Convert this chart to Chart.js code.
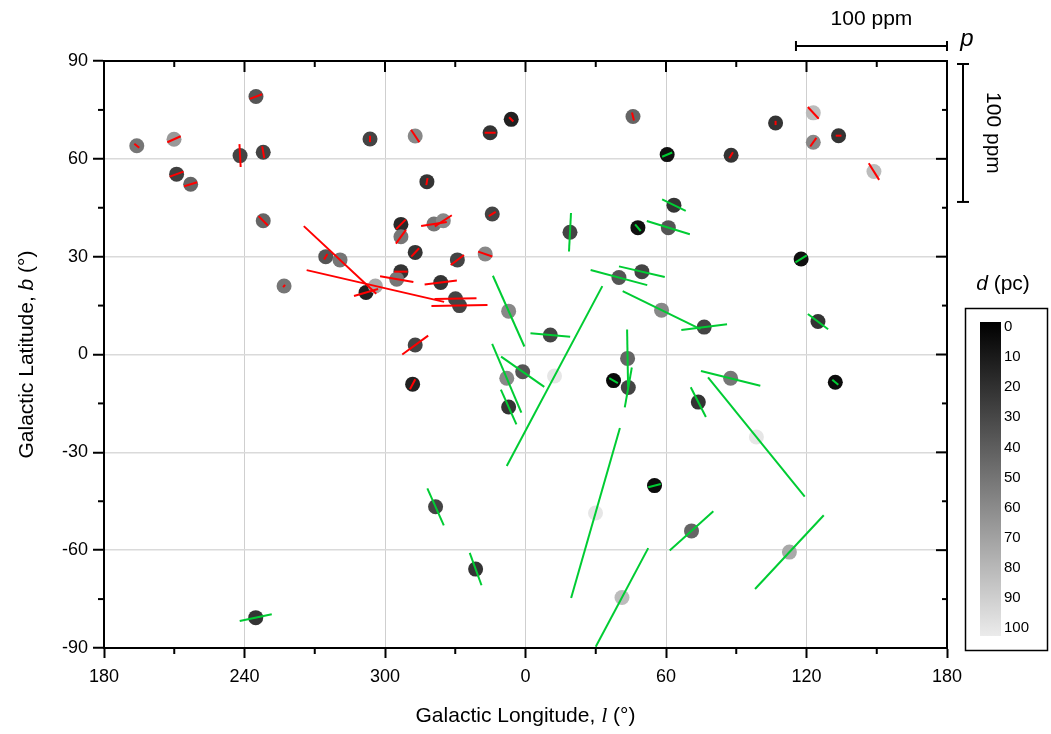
<!DOCTYPE html>
<html>
<head>
<meta charset="utf-8">
<title>Galactic polarization map</title>
<script src="https://cdn.jsdelivr.net/npm/chart.js"></script>
<style>
	html, body { margin: 0; padding: 0; background: #fff; }
	canvas { display: block; }
</style>
</head>
<body>
<canvas id="pol-map" width="1051" height="734"></canvas>
<script>
// stars: galactic longitude / latitude (deg), distance (pc),
// polarisation p (ppm) and position angle (deg, from north towards +l)
var lon = [194.0, 209.9, 244.9, 238.1, 248.0, 211.0, 217.0, 248.0, 293.6, 312.9,
	344.9, 353.9, 45.9, 317.9, 345.8, 306.8, 306.8, 320.9, 324.9, 312.9,
	330.9, 342.8, 306.8, 305.0, 323.8, 330.1, 331.8, 312.9, 311.8, 256.9,
	274.7, 280.8, 291.9, 295.9, 87.8, 106.8, 122.9, 122.9, 133.7, 148.8,
	19.0, 48.0, 63.4, 61.0, 60.5, 117.7, 124.9, 132.3, 76.3, 87.6,
	73.8, 98.6, 58.1, 39.9, 49.7, 352.8, 10.6, 352.0, 358.8, 352.8,
	12.4, 43.6, 43.9, 37.6, 55.1, 70.9, 112.7, 321.6, 338.7, 29.9,
	41.2, 244.8];
var lat = [64.0, 66.0, 79.1, 61.0, 62.0, 55.3, 52.2, 41.0, 66.1, 67.0,
	68.0, 72.1, 73.0, 53.0, 43.1, 39.9, 36.1, 40.0, 41.0, 31.3,
	29.0, 30.8, 25.4, 23.1, 22.1, 17.1, 15.0, 2.9, -9.1, 21.0,
	30.0, 29.0, 19.0, 21.0, 61.1, 71.0, 74.1, 65.1, 67.1, 56.1,
	37.5, 38.9, 45.8, 38.9, 61.3, 29.3, 10.1, -8.5, 8.4, -7.3,
	-14.6, -25.3, 13.6, 23.6, 25.4, 13.3, 6.0, -7.3, -5.3, -16.1,
	-6.6, -1.2, -10.1, -8.0, -40.2, -54.1, -60.6, -46.7, -65.8, -48.6,
	-74.5, -80.7];
var dist = [50, 65, 36, 29, 29, 27, 43, 43, 29, 58,
	22, 14, 43, 22, 29, 18, 50, 50, 58, 22,
	29, 58, 22, 50, 22, 29, 29, 29, 14, 50,
	36, 50, 14, 72, 22, 22, 80, 58, 22, 80,
	29, 7, 22, 36, 7, 7, 22, 5, 29, 50,
	22, 98, 58, 36, 29, 58, 29, 58, 36, 22,
	98, 43, 29, 4, 5, 43, 72, 29, 22, 98,
	80, 22];
var pol = [4.2, 9.7, 8.7, 15.2, 7.9, 9.7, 9.0, 8.7, 4.2, 9.9,
	7.3, 4.0, 5.4, 4.7, 5.4, 8.9, 11.3, 17.2, 13.4, 7.5,
	11.0, 10.0, 8.8, 22.4, 21.5, 27.8, 37.1, 21.2, 7.5, 2.0,
	4.2, 65.6, 16.6, 93.4, 4.6, 2.8, 10.6, 7.0, 3.8, 13.0,
	25.5, 5.8, 17.4, 29.8, 7.2, 8.8, 16.8, 5.2, 30.5, 40.5,
	22.1, 101.7, 57.3, 38.8, 31.1, 51.3, 26.4, 49.5, 34.9, 25.3,
	134.8, 38.4, 26.8, 6.6, 8.6, 38.9, 66.7, 26.8, 22.8, 117.2,
	74.0, 21.7];
var angle = [129, 66, 69, 177, 170, 70, 73, 135, 0, 146,
	90, 135, 166, 10, 58, 45, 36, 81, 57, 43,
	53, 109, 90, 100, 83, 89, 89, 54, 28, 41,
	32, 133, 74, 103, 32, 0, 137, 35, 90, 148,
	3, 140, 116, 107, 67, 58, 127, 130, 83, 104,
	153, 141, 116, 105, 103, 156, 95, 157, 125, 156,
	28, 179, 10, 120, 75, 48, 43, 156, 160, 16,
	28, 78];
// which sample each star belongs to
var sample = [1, 1, 1, 1, 1, 1, 1, 1, 1, 1,
	1, 1, 1, 1, 1, 1, 1, 1, 1, 1,
	1, 1, 1, 1, 1, 1, 1, 1, 1, 1,
	1, 1, 1, 1, 1, 1, 1, 1, 1, 1,
	2, 2, 2, 2, 2, 2, 2, 2, 2, 2,
	2, 2, 2, 2, 2, 2, 2, 2, 2, 2,
	2, 2, 2, 2, 2, 2, 2, 2, 2, 2,
	2, 2];

var xTicks = [180, 240, 300, 360, 420, 480, 540];
var yTicks = [-90, -60, -30, 0, 30, 60, 90];
var cbarTicks = [0, 10, 20, 30, 40, 50, 60, 70, 80, 90, 100];

var PPM_L = 64.5;  // longitude span of 100 ppm
var PPM_B = 42.3;  // latitude span of 100 ppm
var vecColour = { 1: '#ff0000', 2: '#00cc33' };
var FONT = 'Liberation Sans, Arial, sans-serif';

function unwrap(l) { return l < 180 ? l + 360 : l; }

function greyFor(d) {
	var g = Math.round(Math.min(d, 100) * 2.35);
	return 'rgb(' + g + ',' + g + ',' + g + ')';
}

function buildSet(n) {
	var pts = [], cols = [], idx = [];
	for (var i = 0; i < lon.length; i++) {
		if (sample[i] !== n) continue;
		pts.push({ x: unwrap(lon[i]), y: lat[i] });
		cols.push(greyFor(dist[i]));
		idx.push(i);
	}
	return { label: 'sample ' + n, data: pts, idx: idx,
		pointBackgroundColor: cols, pointBorderWidth: 0,
		pointRadius: 7.5, pointHoverRadius: 7.5, showLine: false };
}

function line(ctx, x1, y1, x2, y2) {
	ctx.beginPath();
	ctx.moveTo(x1, y1);
	ctx.lineTo(x2, y2);
	ctx.stroke();
}

var extras = {
	id: 'extras',
	afterDatasetsDraw: function (chart) {
		var ctx = chart.ctx, xs = chart.scales.x, a = chart.chartArea;
		var pxPerPpm = (xs.getPixelForValue(540) - xs.getPixelForValue(540 - PPM_L)) / 100;
		ctx.save();
		ctx.beginPath();
		ctx.rect(a.left, a.top, a.right - a.left, a.bottom - a.top);
		ctx.clip();
		ctx.lineWidth = 2;
		chart.data.datasets.forEach(function (ds, di) {
			var meta = chart.getDatasetMeta(di);
			meta.data.forEach(function (el, j) {
				var i = ds.idx[j];
				var half = pol[i] * pxPerPpm / 2;
				var t = angle[i] * Math.PI / 180;
				var dx = Math.sin(t) * half, dy = -Math.cos(t) * half;
				ctx.strokeStyle = vecColour[sample[i]];
				line(ctx, el.x - dx, el.y - dy, el.x + dx, el.y + dy);
			});
		});
		ctx.restore();
	},
	afterDraw: function (chart) {
		var ctx = chart.ctx, xs = chart.scales.x, ys = chart.scales.y, a = chart.chartArea;
		var v, p;
		ctx.save();
		ctx.strokeStyle = '#000';
		ctx.fillStyle = '#000';
		ctx.lineWidth = 2;
		// top and right frame
		line(ctx, a.left - 1, a.top, a.right + 1, a.top);
		line(ctx, a.right, a.top, a.right, a.bottom + 1);
		// inward ticks on top / right, minor ticks all round
		for (v = 180; v <= 540; v += 30) {
			p = xs.getPixelForValue(v);
			if (v % 60 === 0) {
				line(ctx, p, a.top, p, a.top + 11);
			} else {
				line(ctx, p, a.top, p, a.top + 6);
				line(ctx, p, a.bottom, p, a.bottom + 6);
			}
		}
		for (v = -90; v <= 90; v += 15) {
			p = ys.getPixelForValue(v);
			if (v % 30 === 0) {
				line(ctx, a.right - 11, p, a.right, p);
			} else {
				line(ctx, a.right - 5, p, a.right, p);
				line(ctx, a.left - 6, p, a.left, p);
			}
		}

		// axis titles
		ctx.textBaseline = 'middle';
		ctx.font = '21px ' + FONT;
		var t1 = 'Galactic Longitude, ', t3 = ' (°)';
		ctx.font = 'italic 22px Liberation Serif, Times New Roman, serif';
		var w2 = ctx.measureText('l').width;
		ctx.font = '21px ' + FONT;
		var w1 = ctx.measureText(t1).width, w3 = ctx.measureText(t3).width;
		var cx = (a.left + a.right) / 2, x0 = cx - (w1 + w2 + w3) / 2;
		ctx.textAlign = 'left';
		ctx.fillText(t1, x0, 716);
		ctx.font = 'italic 22px Liberation Serif, Times New Roman, serif';
		ctx.fillText('l', x0 + w1, 716);
		ctx.font = '21px ' + FONT;
		ctx.fillText(t3, x0 + w1 + w2, 716);

		ctx.save();
		ctx.translate(27, (a.top + a.bottom) / 2);
		ctx.rotate(-Math.PI / 2);
		var u1 = 'Galactic Latitude, ', u3 = ' (°)';
		var q1 = ctx.measureText(u1).width, q3 = ctx.measureText(u3).width;
		ctx.font = 'italic 21px ' + FONT;
		var q2 = ctx.measureText('b').width;
		var y0 = -(q1 + q2 + q3) / 2;
		ctx.font = '21px ' + FONT;
		ctx.fillText(u1, y0, 0);
		ctx.font = 'italic 21px ' + FONT;
		ctx.fillText('b', y0 + q1, 0);
		ctx.font = '21px ' + FONT;
		ctx.fillText(u3, y0 + q1 + q2, 0);
		ctx.restore();

		// 100 ppm scale bars
		var hx1 = xs.getPixelForValue(540 - PPM_L), hx2 = xs.getPixelForValue(540), hy = 46;
		line(ctx, hx1, hy, hx2, hy);
		line(ctx, hx1, hy - 5, hx1, hy + 5);
		line(ctx, hx2, hy - 5, hx2, hy + 5);
		ctx.textAlign = 'center';
		ctx.font = '21px ' + FONT;
		ctx.fillText('100 ppm', (hx1 + hx2) / 2, 19);
		ctx.font = 'italic 24px ' + FONT;
		ctx.fillText('p', 967, 39);

		var vy1 = a.top + 3, vy2 = vy1 + (ys.getPixelForValue(0) - ys.getPixelForValue(PPM_B)), vx = 963;
		line(ctx, vx, vy1, vx, vy2);
		line(ctx, vx - 6, vy1, vx + 6, vy1);
		line(ctx, vx - 6, vy2, vx + 6, vy2);
		ctx.save();
		ctx.translate(993, (vy1 + vy2) / 2);
		ctx.rotate(Math.PI / 2);
		ctx.font = '21px ' + FONT;
		ctx.fillText('100 ppm', 0, 0);
		ctx.restore();

		// distance colour bar
		ctx.lineWidth = 1.5;
		ctx.strokeRect(965.5, 308.5, 82, 342);
		var gTop = 322, gBot = 636;
		var grad = ctx.createLinearGradient(0, gTop, 0, gBot);
		grad.addColorStop(0, greyFor(0));
		grad.addColorStop(1, greyFor(100));
		ctx.fillStyle = grad;
		ctx.fillRect(980, gTop, 21, gBot - gTop);
		ctx.fillStyle = '#000';
		ctx.textAlign = 'left';
		ctx.font = '15px ' + FONT;
		cbarTicks.forEach(function (t) {
			ctx.fillText(String(t), 1004, 327 + t * 3.01);
		});
		ctx.font = 'italic 21px ' + FONT;
		var dw = ctx.measureText('d').width;
		ctx.font = '21px ' + FONT;
		var pw = ctx.measureText(' (pc)').width;
		var dx0 = 1003 - (dw + pw) / 2;
		ctx.font = 'italic 21px ' + FONT;
		ctx.fillText('d', dx0, 284);
		ctx.font = '21px ' + FONT;
		ctx.fillText(' (pc)', dx0 + dw, 284);
		ctx.restore();
	}
};

Chart.defaults.font.family = FONT;
Chart.defaults.color = '#000';

new Chart(document.getElementById('pol-map'), {
	type: 'scatter',
	data: { datasets: [buildSet(1), buildSet(2)] },
	options: {
		responsive: false,
		animation: false,
		events: [],
		layout: { padding: { top: 61, right: 104, left: 0, bottom: 0 } },
		plugins: { legend: { display: false }, tooltip: { enabled: false } },
		scales: {
			x: {
				type: 'linear', min: 180, max: 540,
				afterBuildTicks: function (s) { s.ticks = xTicks.map(function (v) { return { value: v }; }); },
				afterFit: function (s) { s.height = 86; },
				ticks: {
					autoSkip: false, maxRotation: 0, padding: 8,
					font: { size: 18 },
					callback: function (v) { return String(v % 360); }
				},
				grid: { color: '#cfcfcf', lineWidth: 1, tickColor: '#000', tickLength: 10, tickWidth: 2 },
				border: { color: '#000', width: 2 }
			},
			y: {
				type: 'linear', min: -90, max: 90,
				afterBuildTicks: function (s) { s.ticks = yTicks.map(function (v) { return { value: v }; }); },
				afterFit: function (s) { s.width = 104; },
				ticks: {
					autoSkip: false, padding: 5,
					font: { size: 18 },
					callback: function (v) { return String(v); }
				},
				grid: { color: '#dadada', lineWidth: 1.5, tickColor: '#000', tickLength: 11, tickWidth: 2 },
				border: { color: '#000', width: 2 }
			}
		}
	},
	plugins: [extras]
});
</script>
</body>
</html>
